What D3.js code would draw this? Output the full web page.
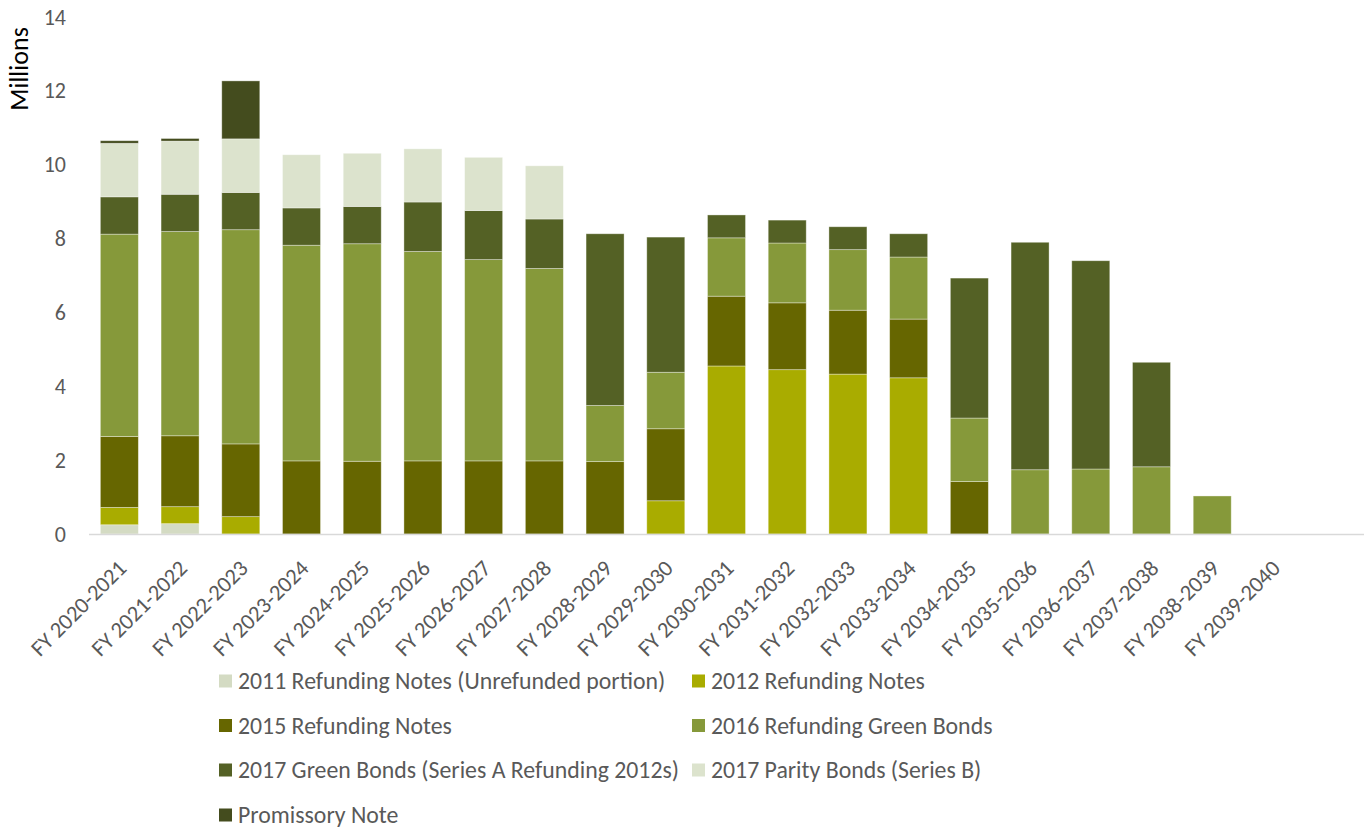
<!DOCTYPE html>
<html>
<head>
<meta charset="utf-8">
<script src="https://cdn.jsdelivr.net/npm/d3@7"></script>
<style>
  html, body { margin: 0; padding: 0; background: #fff; }
  svg { display: block; font-family: Carlito, Lato, "Open Sans", sans-serif; }
</style>
</head>
<body>
<svg id="chart" width="1369" height="829"></svg>
<script>
// Fiscal years (the last slot is an empty placeholder year)
const fiscalYears = [
  "FY 2020-2021", "FY 2021-2022", "FY 2022-2023", "FY 2023-2024", "FY 2024-2025",
  "FY 2025-2026", "FY 2026-2027", "FY 2027-2028", "FY 2028-2029", "FY 2029-2030",
  "FY 2030-2031", "FY 2031-2032", "FY 2032-2033", "FY 2033-2034", "FY 2034-2035",
  "FY 2035-2036", "FY 2036-2037", "FY 2037-2038", "FY 2038-2039", "FY 2039-2040", ""
];

// Debt service by issue, in millions
const refunding2011 = [0.25, 0.28, 0, 0, 0, 0, 0, 0, 0, 0, 0, 0, 0, 0, 0, 0, 0, 0, 0, 0, 0];
const refunding2012 = [0.47, 0.46, 0.47, 0, 0, 0, 0, 0, 0, 0.90, 4.55, 4.45, 4.33, 4.23, 0, 0, 0, 0, 0, 0, 0];
const refunding2015 = [1.92, 1.92, 1.97, 1.98, 1.97, 1.98, 1.98, 1.98, 1.96, 1.95, 1.89, 1.81, 1.73, 1.59, 1.42, 0, 0, 0, 0, 0, 0];
const greenBonds2016 = [5.48, 5.53, 5.80, 5.84, 5.89, 5.67, 5.45, 5.21, 1.52, 1.53, 1.58, 1.62, 1.64, 1.68, 1.72, 1.74, 1.76, 1.82, 1.03, 0, 0];
const greenBonds2017A = [1.01, 1.01, 1.01, 1.01, 1.01, 1.34, 1.33, 1.34, 4.65, 3.66, 0.62, 0.62, 0.62, 0.63, 3.79, 6.16, 5.64, 2.83, 0, 0, 0];
const parityBonds2017B = [1.45, 1.44, 1.45, 1.44, 1.44, 1.44, 1.44, 1.44, 0, 0, 0, 0, 0, 0, 0, 0, 0, 0, 0, 0, 0];
const promissoryNote = [0.07, 0.07, 1.57, 0, 0, 0, 0, 0, 0, 0, 0, 0, 0, 0, 0, 0, 0, 0, 0, 0, 0];

const seriesNames = [
  "2011 Refunding Notes (Unrefunded portion)",
  "2012 Refunding Notes",
  "2015 Refunding Notes",
  "2016 Refunding Green Bonds",
  "2017 Green Bonds (Series A Refunding 2012s)",
  "2017 Parity Bonds (Series B)",
  "Promissory Note"
];
const seriesValues = [refunding2011, refunding2012, refunding2015, greenBonds2016,
  greenBonds2017A, parityBonds2017B, promissoryNote];
const seriesColors = ["#d4dbc3", "#a9ac00", "#666600", "#86993a", "#546125", "#dce3cd", "#444c1e"];

const yTicks = [0, 2, 4, 6, 8, 10, 12, 14];

// Table in the shape d3.stack expects
const rows = fiscalYears.map((fy, i) => {
  const r = { fy };
  seriesNames.forEach((s, k) => { r[s] = seriesValues[k][i]; });
  return r;
});
const stacked = d3.stack().keys(seriesNames)(rows);

const svg = d3.select("#chart");
const plot = { left: 89, right: 1364, top: 17, bottom: 534 };

const x = d3.scaleBand()
  .domain(fiscalYears.map((d, i) => i))
  .range([plot.left, plot.right])
  .paddingInner(0.374)
  .paddingOuter(0.187);

const y = d3.scaleLinear().domain([0, 14]).range([plot.bottom, plot.top]);

const color = d3.scaleOrdinal().domain(seriesNames).range(seriesColors);

// Stacked bars
svg.append("g")
  .selectAll("g")
  .data(stacked)
  .join("g")
  .attr("fill", d => color(d.key))
  .selectAll("rect")
  .data(d => d.map((v, i) => ({ v, i })).filter(o => o.v[1] - o.v[0] > 0))
  .join("rect")
  .attr("x", o => x(o.i))
  .attr("width", x.bandwidth())
  .attr("y", o => y(o.v[1]))
  .attr("height", o => y(o.v[0]) - y(o.v[1]))
  .attr("stroke", "#ffffff")
  .attr("stroke-opacity", 0.45)
  .attr("stroke-width", 0.8);

// Category axis line
svg.append("line")
  .attr("x1", plot.left).attr("x2", plot.right)
  .attr("y1", y(0) + 0.5).attr("y2", y(0) + 0.5)
  .attr("stroke", "#d9d9d9").attr("stroke-width", 1.3);

// Value axis tick labels
const yAxis = d3.axisLeft(y).tickValues(yTicks).tickSize(0).tickPadding(0);
const yg = svg.append("g").attr("transform", "translate(66,0)").call(yAxis);
yg.select(".domain").remove();
yg.selectAll("text")
  .attr("fill", "#595959")
  .style("font-size", "22px")
  .style("font-family", "Carlito, Lato, sans-serif");

// Rotated fiscal-year labels
const xAxis = d3.axisBottom(x).tickSize(0).tickFormat(i => fiscalYears[i]);
const xg = svg.append("g").attr("transform", `translate(0,${plot.bottom})`).call(xAxis);
xg.select(".domain").remove();
xg.selectAll("text")
  .attr("fill", "#595959")
  .style("font-size", "22.5px")
  .style("font-family", "Carlito, Lato, sans-serif")
  .attr("text-anchor", "end")
  .attr("y", 0)
  .attr("dy", "0.35em")
  .attr("transform", "translate(3,30) rotate(-45)");

// Axis title
svg.append("text")
  .attr("transform", "translate(28,69) rotate(-90)")
  .attr("text-anchor", "middle")
  .attr("fill", "#000")
  .style("font-size", "26px")
  .text("Millions");

// Legend, two columns
const legendCols = [219, 692];
const legendRows = [681, 725.5, 770, 815];
const legend = svg.append("g")
  .selectAll("g")
  .data(seriesNames)
  .join("g")
  .attr("transform", (d, i) => `translate(${legendCols[i % 2]},${legendRows[Math.floor(i / 2)]})`);
legend.append("rect")
  .attr("x", 0).attr("y", -6.5)
  .attr("width", 13).attr("height", 13)
  .attr("fill", d => color(d));
legend.append("text")
  .attr("x", 19).attr("y", 0).attr("dy", "0.35em")
  .attr("fill", "#595959")
  .style("font-size", "23.8px")
  .text(d => d);
</script>
</body>
</html>
